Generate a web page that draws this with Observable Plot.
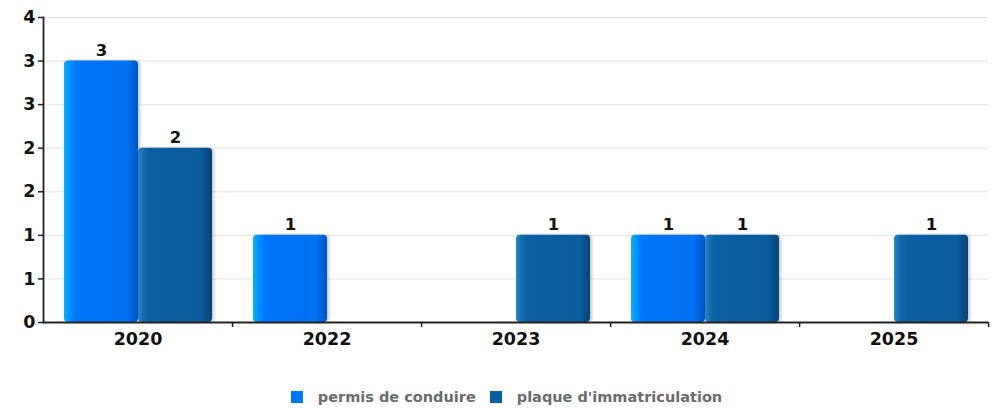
<!DOCTYPE html>
<html>
<head>
<meta charset="utf-8">
<script src="https://cdn.jsdelivr.net/npm/d3@7"></script>
<script src="https://cdn.jsdelivr.net/npm/@observablehq/plot@0.6"></script>
<style>
  html, body { margin: 0; padding: 0; background: #fff; }
  #chart { width: 994px; }
  .c g[aria-label="bar"] rect { filter: drop-shadow(2px 0px 1.5px rgba(0,0,0,0.22)); }
  #legend { display: flex; justify-content: center; align-items: center; margin-top: 29px; padding-left: 19px;
    box-sizing: border-box; width: 994px;
    font-family: "DejaVu Sans", sans-serif; font-weight: bold; font-size: 14.5px; color: #6b6b6b; height: 16px; }
  #legend .item { display: flex; align-items: center; }
  #legend .item + .item { margin-left: 14px; }
  #legend .sw { width: 12px; height: 12px; margin-right: 15px; }
</style>
</head>
<body>
<div id="chart"></div>
<script>
const years = ["2020", "2022", "2023", "2024", "2025"];
const series = ["permis de conduire", "plaque d'immatriculation"];
const permis = [3, 1, 0, 1, 0];
const plaque = [2, 0, 1, 1, 1];
const yTicks = [0, 0.5, 1, 1.5, 2, 2.5, 3, 3.5];
const seriesColors = ["#0076fb", "#0b5fa3"];

const rows = years.flatMap((y, i) => [
  {year: y, series: series[0], value: permis[i]},
  {year: y, series: series[1], value: plaque[i]}
]);
const shown = rows.filter(d => d.value > 0);

const W = 994, ML = 42, MR = 6;
const step = (W - ML - MR) / years.length;

const chart = Plot.plot({
  width: W,
  height: 360,
  marginTop: 17,
  marginBottom: 38,
  marginLeft: ML,
  marginRight: MR,
  className: "c",
  style: {fontFamily: "DejaVu Sans, sans-serif", color: "#111"},
  fx: {domain: years, padding: 0, label: null},
  x: {domain: series, paddingInner: 0, paddingOuter: 0.27, axis: null},
  y: {domain: [0, 3.5], label: null},
  marks: [
    Plot.gridY(yTicks, {stroke: "#e3e3e3", strokeOpacity: 1}),
    Plot.barY(shown.filter(d => d.series === series[0]), {fx: "year", x: "series", y: "value", fill: "url(#gPermis)", rx: 4}),
    Plot.barY(shown.filter(d => d.series === series[1]), {fx: "year", x: "series", y: "value", fill: "url(#gPlaque)", rx: 4}),
    Plot.text(shown, {fx: "year", x: "series", y: "value", text: d => String(d.value), lineAnchor: "bottom", dy: -5, fontSize: 16.5, fontWeight: "bold", fill: "#111"}),
    Plot.ruleY([0], {stroke: "#222", strokeWidth: 1.8}),
    Plot.frame({anchor: "left", facetAnchor: "left", stroke: "#222", strokeWidth: 1.8}),
    Plot.axisY({ticks: yTicks, tickFormat: d => String(Math.round(d)), tickSize: 5, tickPadding: 3, fontSize: 17.5, fontWeight: "bold", label: null, stroke: "#222", strokeWidth: 1.5, strokeOpacity: 1}),
    Plot.axisFx({anchor: "bottom", tickSize: 0, tickPadding: 10, fontSize: 17.5, fontWeight: "bold", label: null}),
    Plot.axisFx({anchor: "bottom", tickSize: 5, tickFormat: () => "", dx: step / 2, label: null, stroke: "#222", strokeWidth: 1.5, strokeOpacity: 1})
  ]
});

const svg = d3.select(chart.tagName.toLowerCase() === "svg" ? chart : chart.querySelector("svg"));
const defs = svg.insert("defs", ":first-child");
function grad(id, stops) {
  const g = defs.append("linearGradient").attr("id", id).attr("x1", "0").attr("x2", "1").attr("y1", "0").attr("y2", "0");
  stops.forEach(([o, c]) => g.append("stop").attr("offset", o).attr("stop-color", c));
}
grad("gPermis", [[0, "#00b2ff"], [0.08, "#0090ff"], [0.16, "#0076fb"], [0.85, "#0072f3"], [0.93, "#0062da"], [1, "#0055c4"]]);
grad("gPlaque", [[0, "#2a86c6"], [0.08, "#1469ad"], [0.16, "#0b5fa3"], [0.85, "#0a5c9e"], [0.93, "#094f8a"], [1, "#07457a"]]);

document.getElementById("chart").appendChild(chart);

const legend = document.createElement("div");
legend.id = "legend";
series.forEach((s, i) => {
  const item = document.createElement("div");
  item.className = "item";
  const sw = document.createElement("div");
  sw.className = "sw";
  sw.style.background = seriesColors[i];
  const t = document.createElement("span");
  t.textContent = s;
  item.appendChild(sw);
  item.appendChild(t);
  legend.appendChild(item);
});
document.getElementById("chart").appendChild(legend);
</script>
</body>
</html>
